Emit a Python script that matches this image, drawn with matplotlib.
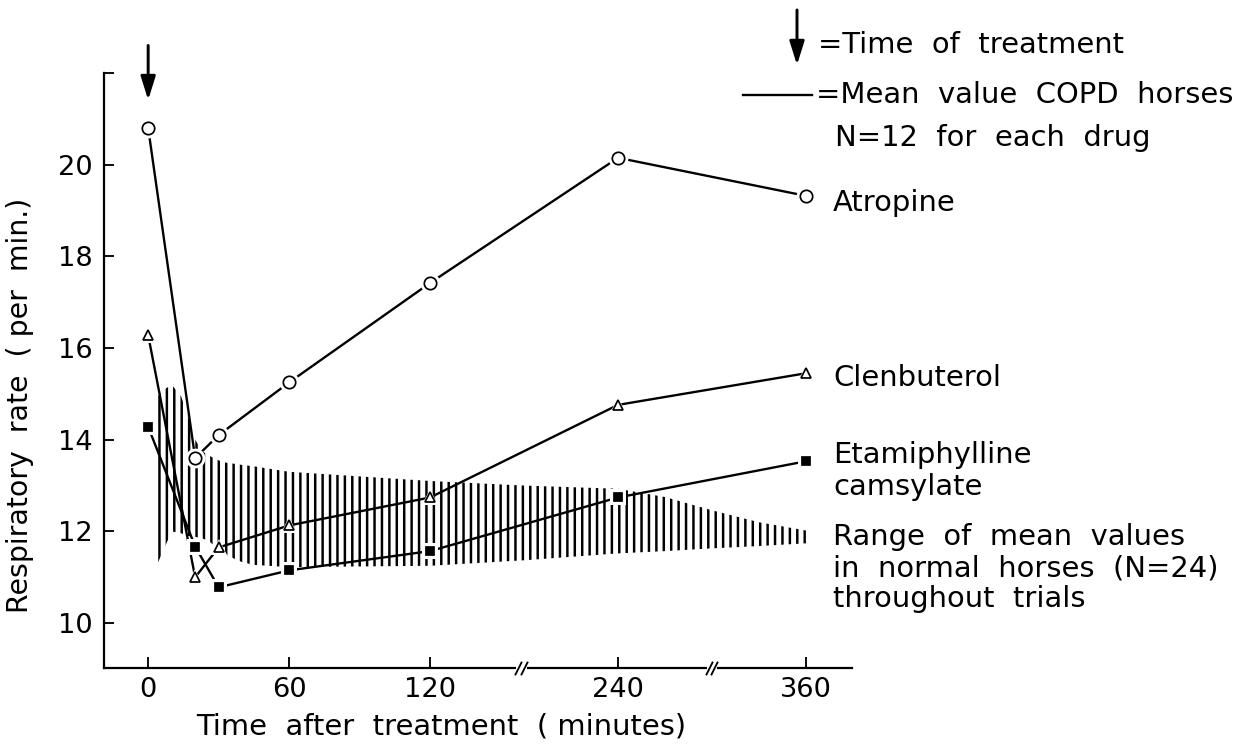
import numpy as np
import matplotlib
matplotlib.use("Agg")
import matplotlib.pyplot as plt
from matplotlib.lines import Line2D

# sampling times, minutes after treatment
times = [0, 20, 30, 60, 120, 240, 360]

# mean respiratory rate of COPD horses (per min.)
atropine = [20.8, 13.6, 14.1, 15.25, 17.42, 20.15, 19.32]
clenbuterol = [16.28, 11.0, 11.65, 12.13, 12.74, 14.76, 15.45]
etamiphylline = [14.28, 11.67, 10.78, 11.15, 11.57, 12.74, 13.53]

# range of mean values in normal horses
normal_t = [4, 7, 10, 14, 17, 20, 23, 26, 30, 33, 36, 40, 45, 60,
            120, 180, 240, 270, 300, 330, 360]
normal_hi = [14.95, 15.1, 15.2, 14.95, 14.5, 14.0, 13.75, 13.65, 13.55, 13.5,
             13.48, 13.45, 13.42, 13.3, 13.1, 13.0, 12.93, 12.75, 12.46, 12.2, 12.02]
normal_lo = [11.3, 11.65, 12.0, 11.96, 11.9, 11.88, 11.85, 11.78, 11.62, 11.5,
             11.42, 11.33, 11.27, 11.22, 11.25, 11.37, 11.52, 11.57, 11.63, 11.68, 11.74]

xticks = [0, 60, 120, 240, 360]
yticks = [10, 12, 14, 16, 18, 20, 22]
ytick_labels = ["10", "12", "14", "16", "18", "20", ""]
axis_breaks = [(176, 180), (298, 301)]

# the first two hours at full scale, later hours squeezed
knots_min = [-60, 0, 120, 240, 360, 480]
knots_pos = [-60, 0, 120, 200, 280, 360]


def fwd(t):
    return np.interp(t, knots_min, knots_pos)


def inv(p):
    return np.interp(p, knots_pos, knots_min)


DPI = 89
W, H = 1253, 746


def fx(px):
    return px / W


def fy(py):
    return 1 - py / H


plt.rcParams["font.family"] = ["DejaVu Sans"]
plt.rcParams["hatch.linewidth"] = 2.0

fig = plt.figure(figsize=(W / DPI, H / DPI), dpi=DPI)
ax = fig.add_axes([fx(104), fy(668), (852 - 104) / W, (668 - 73) / H])
ax.set_xscale("function", functions=(fwd, inv))
ax.set_xlim(-18.8, 389.4)
ax.set_ylim(9.02, 22)

# normal range as a vertically hatched band
ax.fill_between(normal_t, normal_lo, normal_hi, facecolor="none",
                edgecolor="black", hatch="||", linewidth=0, zorder=1)

series = [
    (atropine, "o", 10, "white"),
    (clenbuterol, "^", 7.5, "white"),
    (etamiphylline, "s", 6.5, "black"),
]
for vals, mk, ms, fc in series:
    ax.plot(times, vals, color="black", lw=1.9, zorder=2)
    # white ring so the lines stop short of the symbols
    ax.plot(times, vals, ls="none", marker=mk, ms=ms + 6, mfc="white",
            mec="white", mew=0, zorder=3)
    ax.plot(times, vals, ls="none", marker=mk, ms=ms, mfc=fc,
            mec="black", mew=1.4, zorder=4)

for sp in ["top", "right"]:
    ax.spines[sp].set_visible(False)
for sp in ["left", "bottom"]:
    ax.spines[sp].set_linewidth(1.8)

ax.set_xticks(xticks)
ax.set_xticklabels([str(t) for t in xticks])
ax.set_yticks(yticks)
ax.set_yticklabels(ytick_labels)
ax.xaxis.set_minor_locator(matplotlib.ticker.NullLocator())
ax.tick_params(axis="x", direction="in", length=9, width=1.5, labelsize=22, pad=7)
ax.tick_params(axis="y", direction="in", length=8, width=1.5, labelsize=22, pad=9)

ax.set_xlabel("Time  after  treatment  ( minutes)", fontsize=23.5)
ax.xaxis.set_label_coords(0.451, -0.075)
ax.set_ylabel("Respiratory  rate  ( per  min.)", fontsize=23)
ax.yaxis.set_label_coords(-0.093, 0.442)

# broken time axis
for a, b in axis_breaks:
    ax.plot([a, b], [0, 0], transform=ax.get_xaxis_transform(), color="white",
            lw=4, clip_on=False, zorder=5)
    ax.plot([a, b], [0, 0], transform=ax.get_xaxis_transform(), ls="none",
            marker=[(-0.5, -1), (0.5, 1)], ms=11, mec="black", mew=1.5,
            clip_on=False, zorder=6)

arrow = dict(arrowstyle="-|>,head_length=0.8,head_width=0.25", color="black",
             lw=2.4, shrinkA=0, shrinkB=0, mutation_scale=20)

# time of treatment
ax.annotate("", xy=(0, 21.41), xytext=(0, 22.6), arrowprops=arrow,
            annotation_clip=False)

# key
ax.annotate("", xy=(fx(797), fy(65)), xytext=(fx(797), fy(10)),
            xycoords="figure fraction", textcoords="figure fraction",
            arrowprops=arrow, annotation_clip=False)
fig.text(fx(818), fy(45), "=Time  of  treatment", fontsize=23.5, va="center")
fig.add_artist(Line2D([fx(743), fx(812)], [fy(95), fy(95)], color="black", lw=1.9))
fig.text(fx(816), fy(95), "=Mean  value  COPD  horses", fontsize=23.5, va="center")
fig.text(fx(835), fy(138), "N=12  for  each  drug", fontsize=23.5, va="center")

labels = [
    ("Atropine", 203),
    ("Clenbuterol", 378),
    ("Etamiphylline", 455),
    ("camsylate", 487),
    ("Range  of  mean  values", 537),
    ("in  normal  horses  (N=24)", 568),
    ("throughout  trials", 599),
]
for txt, y in labels:
    fig.text(fx(833), fy(y), txt, fontsize=23.5, va="center")

fig.savefig("out.png", dpi=DPI)
